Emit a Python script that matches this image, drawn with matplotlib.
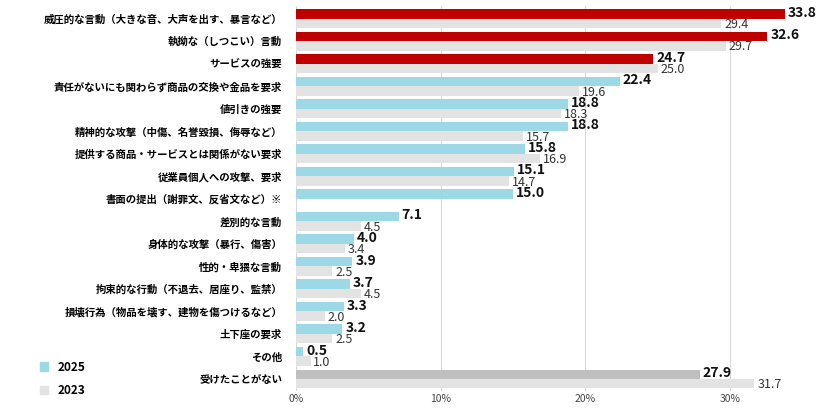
import numpy as np
import matplotlib.pyplot as plt
from matplotlib.patches import Patch

categories = [
    "威圧的な言動（大きな音、大声を出す、暴言など）",
    "執拗な（しつこい）言動",
    "サービスの強要",
    "責任がないにも関わらず商品の交換や金品を要求",
    "値引きの強要",
    "精神的な攻撃（中傷、名誉毀損、侮辱など）",
    "提供する商品・サービスとは関係がない要求",
    "従業員個人への攻撃、要求",
    "書面の提出（謝罪文、反省文など）※",
    "差別的な言動",
    "身体的な攻撃（暴行、傷害）",
    "性的・卑猥な言動",
    "拘束的な行動（不退去、居座り、監禁）",
    "損壊行為（物品を壊す、建物を傷つけるなど）",
    "土下座の要求",
    "その他",
    "受けたことがない",
]
v2025 = [33.8, 32.6, 24.7, 22.4, 18.8, 18.8, 15.8, 15.1, 15.0, 7.1, 4.0, 3.9, 3.7, 3.3, 3.2, 0.5, 27.9]
v2023 = [29.4, 29.7, 25.0, 19.6, 18.3, 15.7, 16.9, 14.7, None, 4.5, 3.4, 2.5, 4.5, 2.0, 2.5, 1.0, 31.7]

plt.rcParams["font.family"] = ["Noto Sans CJK JP", "DejaVu Sans"]
RED, BLUE, GREY, LIGHT = "#c00000", "#9dd8e6", "#bfbfbf", "#e3e3e3"

fig = plt.figure(figsize=(8.27, 4.12), dpi=100)
ax = fig.add_axes([0.358, 0.05, 0.612, 0.935])

n = len(categories)
y = np.arange(n)
h = 0.42
cols = [RED if i < 3 else (GREY if i == n - 1 else BLUE) for i in range(n)]
ax.barh(y - h / 2, v2025, height=h, color=cols, zorder=3)
for i, v in enumerate(v2023):
    if v is not None:
        ax.barh(y[i] + h / 2, v, height=h, color=LIGHT, zorder=3)
        ax.text(v + 0.2, y[i] + h / 2 + 0.05, f"{v:.1f}", va="center", ha="left",
                fontsize=9, color="#333333", zorder=4)
    ax.text(v2025[i] + 0.2, y[i] - h / 2 - 0.05, f"{v2025[i]:.1f}", va="center", ha="left",
            fontsize=10, fontweight="bold", color="#111111", zorder=4)

ax.set_xlim(0, 35)
ax.set_ylim(n - 0.45, -0.55)
ax.set_xticks([0, 10, 20, 30])
ax.set_xticklabels(["0%", "10%", "20%", "30%"], fontsize=7.5, color="#444444")
ax.tick_params(axis="x", pad=2)
ax.set_yticks(y)
ax.set_yticklabels(categories, fontsize=7.5, fontweight="bold")
ax.tick_params(length=0)
ax.tick_params(axis="y", pad=10)
ax.grid(axis="x", color="#d9d9d9", lw=0.8, zorder=0)
for s in ax.spines.values():
    s.set_visible(False)

fig.legend(handles=[Patch(color=BLUE, label="2025"), Patch(color=LIGHT, label="2023")],
           loc="lower left", bbox_to_anchor=(0.035, 0.01), frameon=False,
           handlelength=0.7, handleheight=0.7, labelspacing=0.9,
           prop={"weight": "bold", "size": 8.5})

fig.savefig("out.png", dpi=100)
